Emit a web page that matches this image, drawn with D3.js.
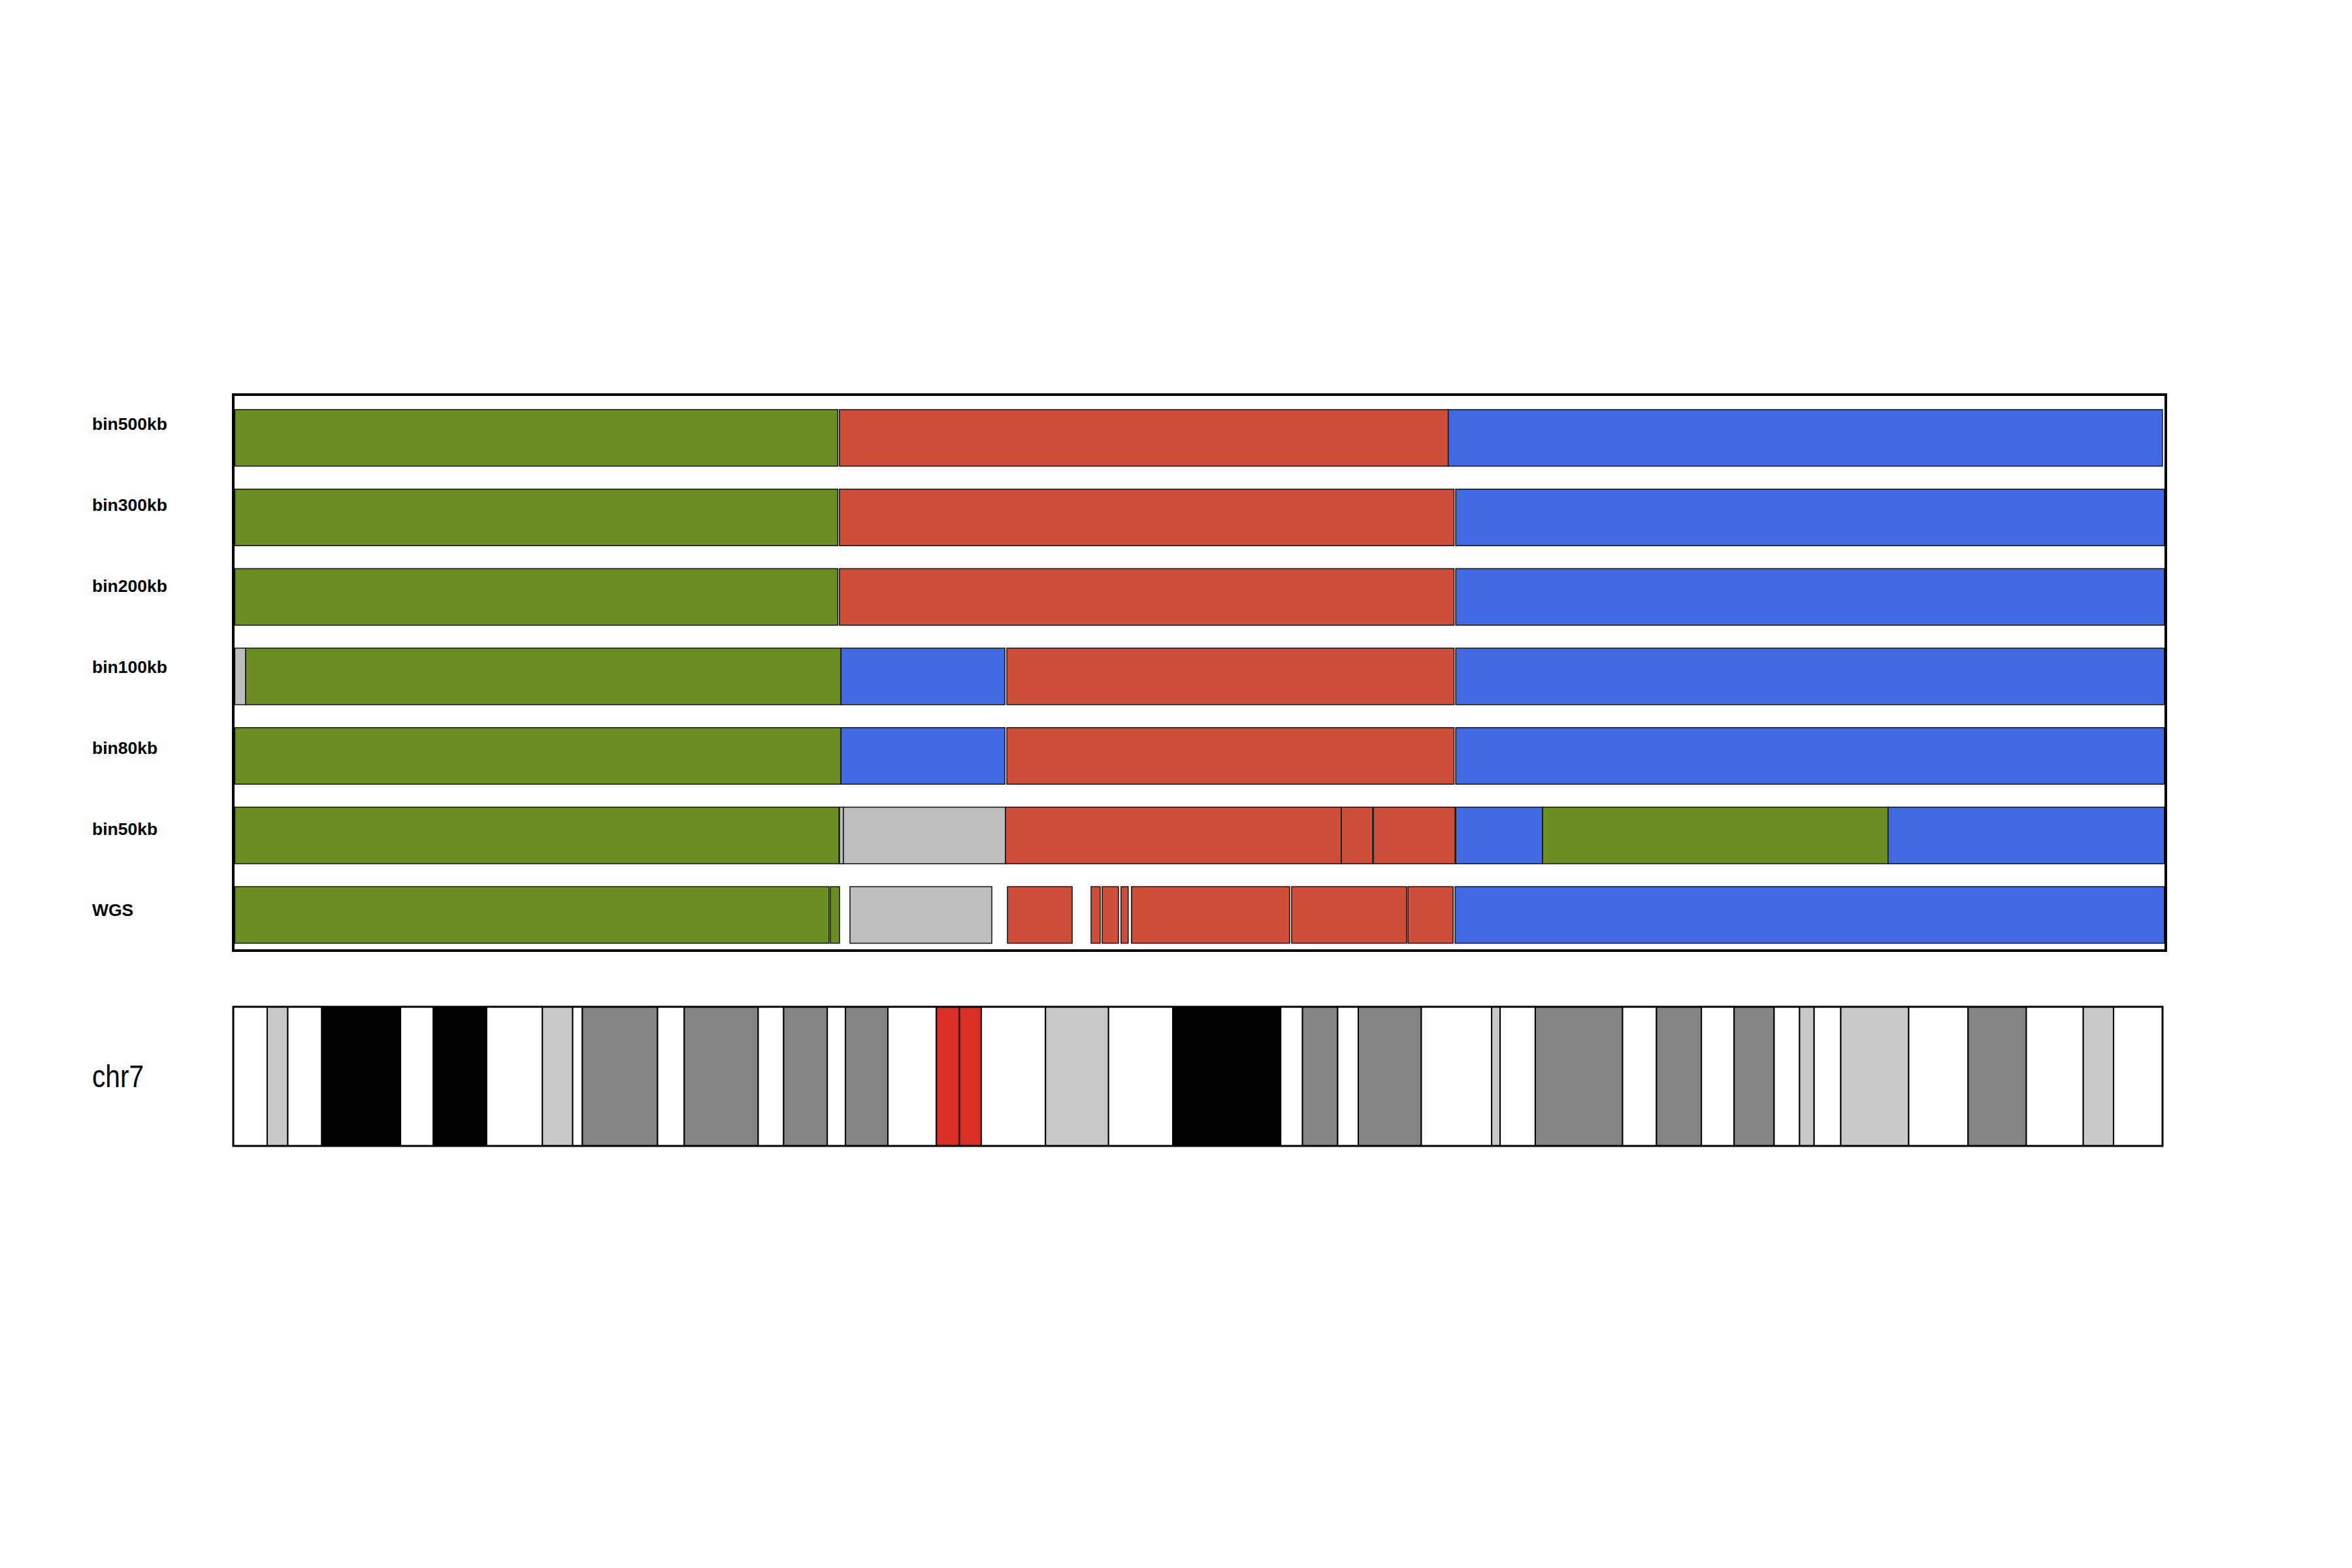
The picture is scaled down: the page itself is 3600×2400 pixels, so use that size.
<!DOCTYPE html>
<html>
<head>
<meta charset="utf-8">
<script src="https://cdn.jsdelivr.net/npm/d3@7"></script>
<style>
  html, body { margin: 0; padding: 0; background: #ffffff; }
  svg { display: block; }
</style>
</head>
<body>
<svg id="chart" width="3600" height="2400"></svg>
<script>
// ---------- DATA ----------
const chromName = "chr7";
const chromLength = 159.138663; // Mb (hg19)

const trackNames = ["bin500kb", "bin300kb", "bin200kb", "bin100kb", "bin80kb", "bin50kb", "WGS"];

// segments: [start Mb, end Mb, state]
const segBin500kb = [[0.13, 49.87, "A"], [50.0, 100.22, "B"], [100.22, 159.13, "C"]];
const segBin300kb = [[0.13, 49.87, "A"], [50.0, 100.70, "B"], [100.84, 159.29, "C"]];
const segBin200kb = [[0.13, 49.87, "A"], [50.0, 100.70, "B"], [100.84, 159.29, "C"]];
const segBin100kb = [[0.13, 1.02, "N"], [1.02, 50.13, "A"], [50.13, 63.65, "C"], [63.81, 100.70, "B"], [100.84, 159.29, "C"]];
const segBin80kb  = [[0.13, 50.13, "A"], [50.13, 63.65, "C"], [63.81, 100.70, "B"], [100.84, 159.29, "C"]];
const segBin50kb  = [[0.13, 49.96, "A"], [50.01, 50.33, "N"], [50.33, 63.70, "N"], [63.70, 91.40, "B"], [91.40, 93.98, "B"], [94.05, 100.78, "B"], [100.84, 108.0, "C"], [108.0, 136.5, "A"], [136.5, 159.29, "C"]];
const segWGS      = [[0.13, 49.15, "A"], [49.26, 50.01, "A"], [50.87, 62.57, "N"], [63.86, 69.20, "B"], [70.76, 71.51, "B"], [71.67, 73.02, "B"], [73.23, 73.82, "B"], [74.09, 87.14, "B"], [87.30, 96.79, "B"], [96.90, 100.62, "B"], [100.78, 159.29, "C"]];
const trackSegments = [segBin500kb, segBin300kb, segBin200kb, segBin100kb, segBin80kb, segBin50kb, segWGS];

const stateNames = ["A", "B", "C", "N"];
const stateColors = ["#6B8E23", "#CD4F39", "#4169E1", "#BEBEBE"];

// cytobands chr7 (hg19), Mb
const bandStarts = [0, 2.8, 4.5, 7.3, 13.8, 16.5, 20.9, 25.5, 28.0, 28.8, 35.0, 37.2, 43.3, 45.4, 49.0, 50.5, 54.0, 58.0, 59.9, 61.7, 67.0, 72.2, 77.5, 86.4, 88.2, 91.1, 92.8, 98.0, 103.8, 104.5, 107.4, 114.6, 117.4, 121.1, 123.8, 127.1, 129.2, 130.4, 132.6, 138.2, 143.1, 147.9, 152.6, 155.1];
const bandEnds   = [2.8, 4.5, 7.3, 13.8, 16.5, 20.9, 25.5, 28.0, 28.8, 35.0, 37.2, 43.3, 45.4, 49.0, 50.5, 54.0, 58.0, 59.9, 61.7, 67.0, 72.2, 77.5, 86.4, 88.2, 91.1, 92.8, 98.0, 103.8, 104.5, 107.4, 114.6, 117.4, 121.1, 123.8, 127.1, 129.2, 130.4, 132.6, 138.2, 143.1, 147.9, 152.6, 155.1, 159.138663];
const bandStains = ["gneg", "gpos25", "gneg", "gpos100", "gneg", "gpos100", "gneg", "gpos50", "gneg", "gpos75", "gneg", "gpos75", "gneg", "gpos75", "gneg", "gpos75", "gneg", "acen", "acen", "gneg", "gpos50", "gneg", "gpos100", "gneg", "gpos75", "gneg", "gpos75", "gneg", "gpos50", "gneg", "gpos75", "gneg", "gpos75", "gneg", "gpos75", "gneg", "gpos25", "gneg", "gpos50", "gneg", "gpos75", "gneg", "gpos50", "gneg"];

const stainNames  = ["gneg", "gpos25", "gpos50", "gpos75", "gpos100", "acen"];
const stainColors = ["#FFFFFF", "#C8C8C8", "#C8C8C8", "#848484", "#000000", "#D92F27"];

// ---------- LAYOUT ----------
const svg = d3.select("#chart");
const x = d3.scaleLinear().domain([0, chromLength]).range([357, 3310]);
const y = d3.scaleBand().domain(trackNames).range([627, 1443.7]).paddingInner(0.289).paddingOuter(0);
const yLabel = d3.scalePoint().domain(trackNames).range([658, 1402]);
const stateColor = d3.scaleOrdinal().domain(stateNames).range(stateColors);
const stainColor = d3.scaleOrdinal().domain(stainNames).range(stainColors);

// track rows
const segData = [];
trackNames.forEach((name, i) => {
  trackSegments[i].forEach(s => segData.push({ track: name, start: s[0], end: s[1], state: s[2] }));
});

svg.append("g")
  .selectAll("rect")
  .data(segData)
  .join("rect")
  .attr("x", d => x(d.start))
  .attr("y", d => y(d.track))
  .attr("width", d => x(d.end) - x(d.start))
  .attr("height", y.bandwidth())
  .attr("fill", d => stateColor(d.state))
  .attr("stroke", "#111")
  .attr("stroke-width", 1.5);

// frame around tracks
svg.append("rect")
  .attr("x", 357)
  .attr("y", 604)
  .attr("width", 3315 - 357)
  .attr("height", 1455 - 604)
  .attr("fill", "none")
  .attr("stroke", "#000")
  .attr("stroke-width", 4);

// track labels
svg.append("g")
  .selectAll("text")
  .data(trackNames)
  .join("text")
  .attr("x", 141)
  .attr("y", d => yLabel(d))
  .attr("font-family", "Liberation Sans, Arial, Helvetica, sans-serif")
  .attr("font-weight", "bold")
  .attr("font-size", 26.5)
  .attr("fill", "#000")
  .text(d => d);

// ideogram
const bands = bandStarts.map((s, i) => ({ start: s, end: bandEnds[i], stain: bandStains[i] }));
const ideoTop = 1541, ideoBottom = 1754;
svg.append("g")
  .selectAll("rect")
  .data(bands)
  .join("rect")
  .attr("x", d => x(d.start))
  .attr("y", ideoTop)
  .attr("width", d => x(d.end) - x(d.start))
  .attr("height", ideoBottom - ideoTop)
  .attr("fill", d => stainColor(d.stain))
  .attr("stroke", "#000")
  .attr("stroke-width", 2);

svg.append("rect")
  .attr("x", x(0))
  .attr("y", ideoTop)
  .attr("width", x(chromLength) - x(0))
  .attr("height", ideoBottom - ideoTop)
  .attr("fill", "none")
  .attr("stroke", "#000")
  .attr("stroke-width", 3);

svg.append("text")
  .attr("x", 141)
  .attr("y", 1664)
  .attr("font-family", "Liberation Sans, Arial, Helvetica, sans-serif")
  .attr("font-size", 48)
  .attr("textLength", 79)
  .attr("lengthAdjust", "spacingAndGlyphs")
  .attr("fill", "#000")
  .text(chromName);
</script>
</body>
</html>
